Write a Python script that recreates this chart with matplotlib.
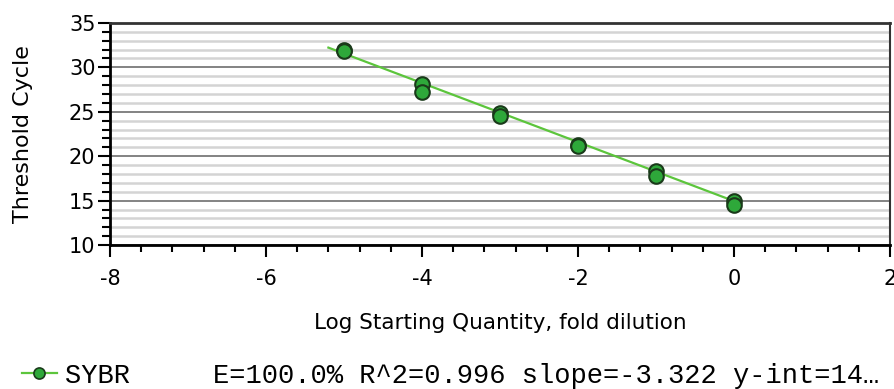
import matplotlib
matplotlib.use("Agg")
import matplotlib.pyplot as plt
from matplotlib.ticker import MultipleLocator
import numpy as np

plt.rcParams['axes.unicode_minus'] = False

# standard curve data (log starting quantity vs threshold cycle)
log_qty = [-5, -5, -4, -4, -3, -3, -2, -2, -1, -1, 0, 0]
ct = [31.9, 31.8, 28.1, 27.2, 24.9, 24.5, 21.3, 21.1, 18.3, 17.8, 15.0, 14.5]

# fit from the legend text
slope = -3.322
y_int = 14.95
fit_x = [-5.2, 0.0]

series_name = 'SYBR'
stats_text = 'E=100.0% R^2=0.996 slope=-3.322 y-int=14\u2026'

green_line = '#5cc53c'
green_pt = '#2ea83a'

fig = plt.figure(figsize=(8.95, 3.89), dpi=100)
ax = fig.add_axes([0.1229, 0.370, 0.8715, 0.571])

fx = np.array(fit_x)
ax.plot(fx, slope * fx + y_int, color=green_line, lw=1.6, zorder=3)
ax.scatter(log_qty, ct, s=110, color=green_pt, edgecolor='#1a3a1a',
           linewidth=1.5, zorder=4)

ax.set_xlim(-8, 2)
ax.set_ylim(10, 35)
ax.xaxis.set_major_locator(MultipleLocator(2))
ax.xaxis.set_minor_locator(MultipleLocator(0.4))
ax.yaxis.set_major_locator(MultipleLocator(5))
ax.yaxis.set_minor_locator(MultipleLocator(1))

ax.grid(axis='y', which='major', color='#7a7a7a', lw=1.3, zorder=1)
ax.grid(axis='y', which='minor', color='#d4d4d4', lw=1.8, zorder=0)
ax.set_axisbelow(True)

ax.tick_params(axis='both', which='both', direction='out', color='black',
               width=1.5, labelsize=15)
ax.tick_params(axis='x', which='major', length=8.5, pad=9)
ax.tick_params(axis='x', which='minor', length=5)
ax.tick_params(axis='y', which='major', length=8.5, pad=2)
ax.tick_params(axis='y', which='minor', length=5.5)

for s in ['left', 'bottom']:
    ax.spines[s].set_linewidth(2)
    ax.spines[s].set_color('black')
ax.spines['top'].set_linewidth(2)
ax.spines['top'].set_color('#333333')
ax.spines['right'].set_linewidth(1.5)
ax.spines['right'].set_color('#333333')

ax.set_xlabel('Log Starting Quantity, fold dilution', fontsize=15.5)
ax.xaxis.set_label_coords(0.5, -0.308)
ax.set_ylabel('Threshold Cycle', fontsize=16)
ax.yaxis.set_label_coords(-0.099, 0.5)

handle, = ax.plot([], [], color=green_line, lw=1.6, marker='o', ms=8,
                  mfc=green_pt, mec='#1a3a1a', mew=1.2)
leg = fig.legend([handle], [series_name], loc='center left',
                 bbox_to_anchor=(0.0246, 0.034), frameon=False,
                 prop={'family': 'Liberation Mono', 'size': 19.5},
                 handlelength=1.28, handletextpad=0.3,
                 borderpad=0, borderaxespad=0)
fig.text(0.238, 0.034, stats_text, family='Liberation Mono', fontsize=19.5,
         va='center', ha='left')

fig.savefig('out.png', dpi=100)
